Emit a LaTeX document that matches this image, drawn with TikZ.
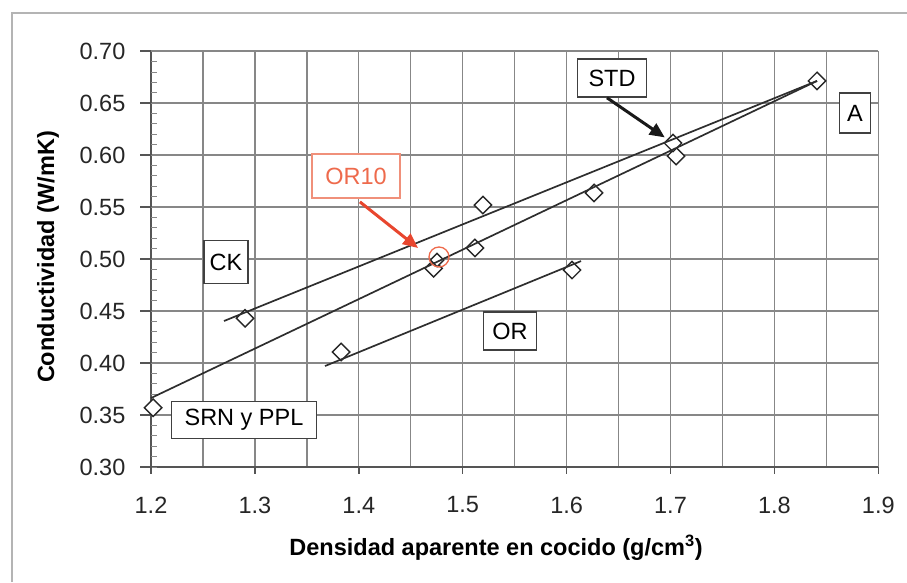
\documentclass[tikz,border=0pt]{standalone}
\usepackage{fontspec}
\setmainfont{Liberation Sans}
\usetikzlibrary{arrows.meta,shapes.geometric}
\definecolor{gridgray}{HTML}{878787}
\definecolor{axisgray}{HTML}{555555}
\definecolor{framegray}{HTML}{B4B4B4}
\definecolor{orred}{HTML}{EE6A4C}
\definecolor{orbox}{HTML}{F0907A}
\definecolor{arrred}{HTML}{E8462E}
\begin{document}
\begin{tikzpicture}[x=1pt,y=1pt,
  font=\fontsize{23.5}{28}\selectfont,
  gridline/.style={draw=gridgray, line width=1.3pt},
  axisline/.style={draw=axisgray, line width=1.5pt},
  fitline/.style={draw=black!82, line width=1.7pt},
  datapt/.style={diamond, draw=black!85, fill=white, line width=1.4pt, minimum width=18pt, minimum height=18pt, inner sep=0pt},
  lbl/.style={draw=black!75, fill=white, line width=1.6pt, inner sep=0pt, minimum height=38pt},
  callout/.style={line width=3pt, -{Triangle[length=15pt,width=13pt]}},
  ticklbl/.style={inner sep=0pt, text=black!85},
  titlelbl/.style={font=\fontsize{23.5}{28}\selectfont\bfseries, inner sep=0pt}]
\useasboundingbox (0,0) rectangle (907,582);
% outer frame
\draw[framegray, line width=1.5pt] (12,0) -- (12,569) -- (907,569);
\begin{scope}[shift={(-1095.8pt,-197pt)}, x=1039pt, y=1040pt]
  % grid
  \foreach \i in {0,...,14} \draw[gridline] ({1.2+0.05*\i},0.3) -- ({1.2+0.05*\i},0.7);
  \foreach \j in {0,...,8} \draw[gridline] (1.2,{0.3+0.05*\j}) -- (1.9,{0.3+0.05*\j});
  % axes and ticks
  \draw[axisline] (1.2,0.7) -- (1.2,0.3) -- (1.9,0.3);
  \foreach \j in {0,...,8} \draw[axisline] (1.2,{0.3+0.05*\j}) -- ++(-11pt,0);
  \foreach \j in {0,...,40} \draw[gridgray, line width=1pt] (1.2,{0.3+0.01*\j}) -- ++(6pt,0);
  \foreach \i in {0,...,7} \draw[axisline] ({1.2+0.1*\i},0.3) -- ++(0,-7pt);
  % tick labels
  \foreach \v/\t in {0.30/0.30,0.35/0.35,0.40/0.40,0.45/0.45,0.50/0.50,0.55/0.55,0.60/0.60,0.65/0.65,0.70/0.70}
    \node[ticklbl, anchor=east] (yl\t) at (1.1755,\v) {\t};
  \foreach \v/\t in {1.2/1.2,1.3/1.3,1.4/1.4,1.5/1.5,1.6/1.6,1.7/1.7,1.8/1.8,1.9/1.9}
    \node[ticklbl] (xl\t) at (\v,0.2635) {\t};
  % data points
  \node[datapt] (pSRN) at (1.202,0.357) {};
  \node[datapt] (pCK) at (1.2905,0.443) {};
  \node[datapt] (pORa) at (1.383,0.4106) {};
  \node[datapt] (pB) at (1.472,0.491) {};
  \node[datapt, minimum width=14pt, minimum height=14pt] (pOR10) at (1.4753,0.499) {};
  \node[datapt] (pC) at (1.5118,0.5106) {};
  \node[datapt] (pD) at (1.5195,0.5519) {};
  \node[datapt] (pE) at (1.6264,0.5635) {};
  \node[datapt] (pORb) at (1.6052,0.4894) {};
  \node[datapt] (pF) at (1.7053,0.599) {};
  \node[datapt] (pSTD) at (1.7024,0.6115) {};
  \node[datapt] (pA) at (1.841,0.6712) {};
  % fit lines
  \coordinate (ck0) at (1.2703,0.4404);
  \coordinate (srn0) at (1.2,0.3663);
  \coordinate (or0) at (1.3675,0.3971);
  \coordinate (or1) at (1.6139,0.498);
  \draw[fitline] (ck0) -- (pA.center);
  \draw[fitline] (srn0) -- (pA.center);
  \draw[fitline] (or0) -- (or1);
\end{scope}
% OR10 circle
\node[circle, draw=orred, line width=1.3pt, minimum size=20pt, inner sep=0pt] (cOR10) at (439,325) {};
% labels
\node[lbl, minimum width=69pt] (lSTD) at (612,504) {STD};
\node[lbl, minimum width=31pt, minimum height=40pt] (lA) at (855,469) {A};
\node[lbl, draw=orbox, text=orred, minimum width=88pt, minimum height=44pt] (lOR10) at (356,406) {OR10};
\node[lbl, minimum width=44pt, minimum height=43pt] (lCK) at (226,320) {CK};
\node[lbl, minimum width=145pt, minimum height=37pt] (lSRN) at (244,162) {SRN y PPL};
\node[lbl, minimum width=53pt] (lOR) at (510,251) {OR};
% callout arrows
\coordinate (or10tip) at (418,334);
\draw[callout, black!90, shorten >=3pt] ([xshift=-5pt]lSTD.south) -- (pSTD);
\draw[callout, arrred, shorten <=5pt] (lOR10.south) -- (or10tip);
% axis titles
\node[titlelbl] (xtitle) at (496,34) {Densidad aparente en cocido (g/cm\textsuperscript{3})};
\node[titlelbl, rotate=90] (ytitle) at (48,325) {Conductividad (W/mK)};
\end{tikzpicture}
\end{document}
